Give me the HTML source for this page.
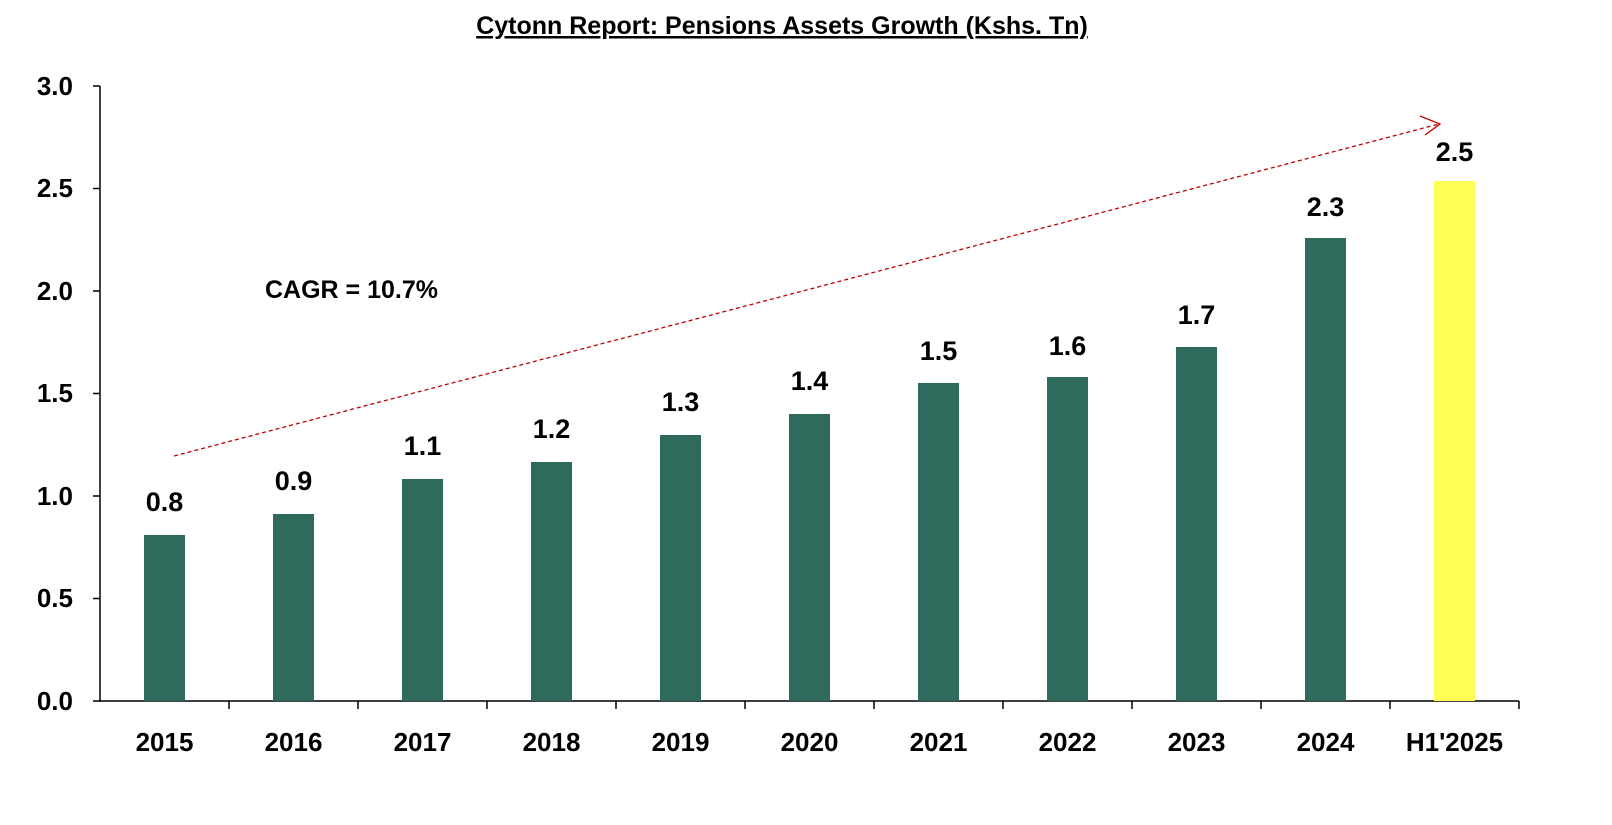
<!DOCTYPE html>
<html><head><meta charset="utf-8"><style>body{margin:0;background:#fff}</style></head><body>
<svg width="1612" height="820" xmlns="http://www.w3.org/2000/svg" font-family="Liberation Sans, sans-serif" font-weight="bold">
<text x="782" y="34" text-anchor="middle" font-size="25" text-decoration="underline">Cytonn Report: Pensions Assets Growth (Kshs. Tn)</text>
<g stroke="#000" stroke-width="1.5">
<line x1="100" y1="86" x2="100" y2="702"/>
<line x1="100" y1="701" x2="1519" y2="701"/>
<line x1="93" y1="86" x2="100" y2="86"/><line x1="93" y1="188.5" x2="100" y2="188.5"/><line x1="93" y1="291" x2="100" y2="291"/><line x1="93" y1="393.5" x2="100" y2="393.5"/><line x1="93" y1="496" x2="100" y2="496"/><line x1="93" y1="598.5" x2="100" y2="598.5"/><line x1="93" y1="701" x2="100" y2="701"/>
<line x1="229" y1="701" x2="229" y2="709"/><line x1="358" y1="701" x2="358" y2="709"/><line x1="487" y1="701" x2="487" y2="709"/><line x1="616" y1="701" x2="616" y2="709"/><line x1="745" y1="701" x2="745" y2="709"/><line x1="874" y1="701" x2="874" y2="709"/><line x1="1003" y1="701" x2="1003" y2="709"/><line x1="1132" y1="701" x2="1132" y2="709"/><line x1="1261" y1="701" x2="1261" y2="709"/><line x1="1390" y1="701" x2="1390" y2="709"/><line x1="1519" y1="701" x2="1519" y2="709"/>
</g>
<g font-size="26" text-anchor="end">
<text x="73" y="95">3.0</text><text x="73" y="197">2.5</text><text x="73" y="300">2.0</text><text x="73" y="402">1.5</text><text x="73" y="505">1.0</text><text x="73" y="607">0.5</text><text x="73" y="710">0.0</text>
</g>
<g fill="#2E6B5C">
<rect x="144" y="535" width="41" height="166"/>
<rect x="273" y="514" width="41" height="187"/>
<rect x="402" y="479" width="41" height="222"/>
<rect x="531" y="462" width="41" height="239"/>
<rect x="660" y="435" width="41" height="266"/>
<rect x="789" y="414" width="41" height="287"/>
<rect x="918" y="383" width="41" height="318"/>
<rect x="1047" y="377" width="41" height="324"/>
<rect x="1176" y="347" width="41" height="354"/>
<rect x="1305" y="238" width="41" height="463"/>
</g>
<rect x="1434" y="181" width="41" height="520" fill="#FFFF55"/>
<g font-size="27" text-anchor="middle">
<text x="164.5" y="511">0.8</text><text x="293.5" y="490">0.9</text><text x="422.5" y="455">1.1</text><text x="551.5" y="438">1.2</text><text x="680.5" y="411">1.3</text><text x="809.5" y="390">1.4</text><text x="938.5" y="360">1.5</text><text x="1067.5" y="355">1.6</text><text x="1196.5" y="324">1.7</text><text x="1325.5" y="216">2.3</text><text x="1454.5" y="161">2.5</text>
</g>
<g font-size="26" text-anchor="middle">
<text x="164.5" y="751">2015</text><text x="293.5" y="751">2016</text><text x="422.5" y="751">2017</text><text x="551.5" y="751">2018</text><text x="680.5" y="751">2019</text><text x="809.5" y="751">2020</text><text x="938.5" y="751">2021</text><text x="1067.5" y="751">2022</text><text x="1196.5" y="751">2023</text><text x="1325.5" y="751">2024</text><text x="1454.5" y="751">H1'2025</text>
</g>
<text x="265" y="298" font-size="25">CAGR = 10.7%</text>
<line x1="174" y1="456" x2="1439" y2="124" stroke="#C00000" stroke-width="1.3" stroke-dasharray="4,3"/>
<polyline points="1420,116 1440,124 1425,135" fill="none" stroke="#C00000" stroke-width="1.3"/>
</svg>
</body></html>
